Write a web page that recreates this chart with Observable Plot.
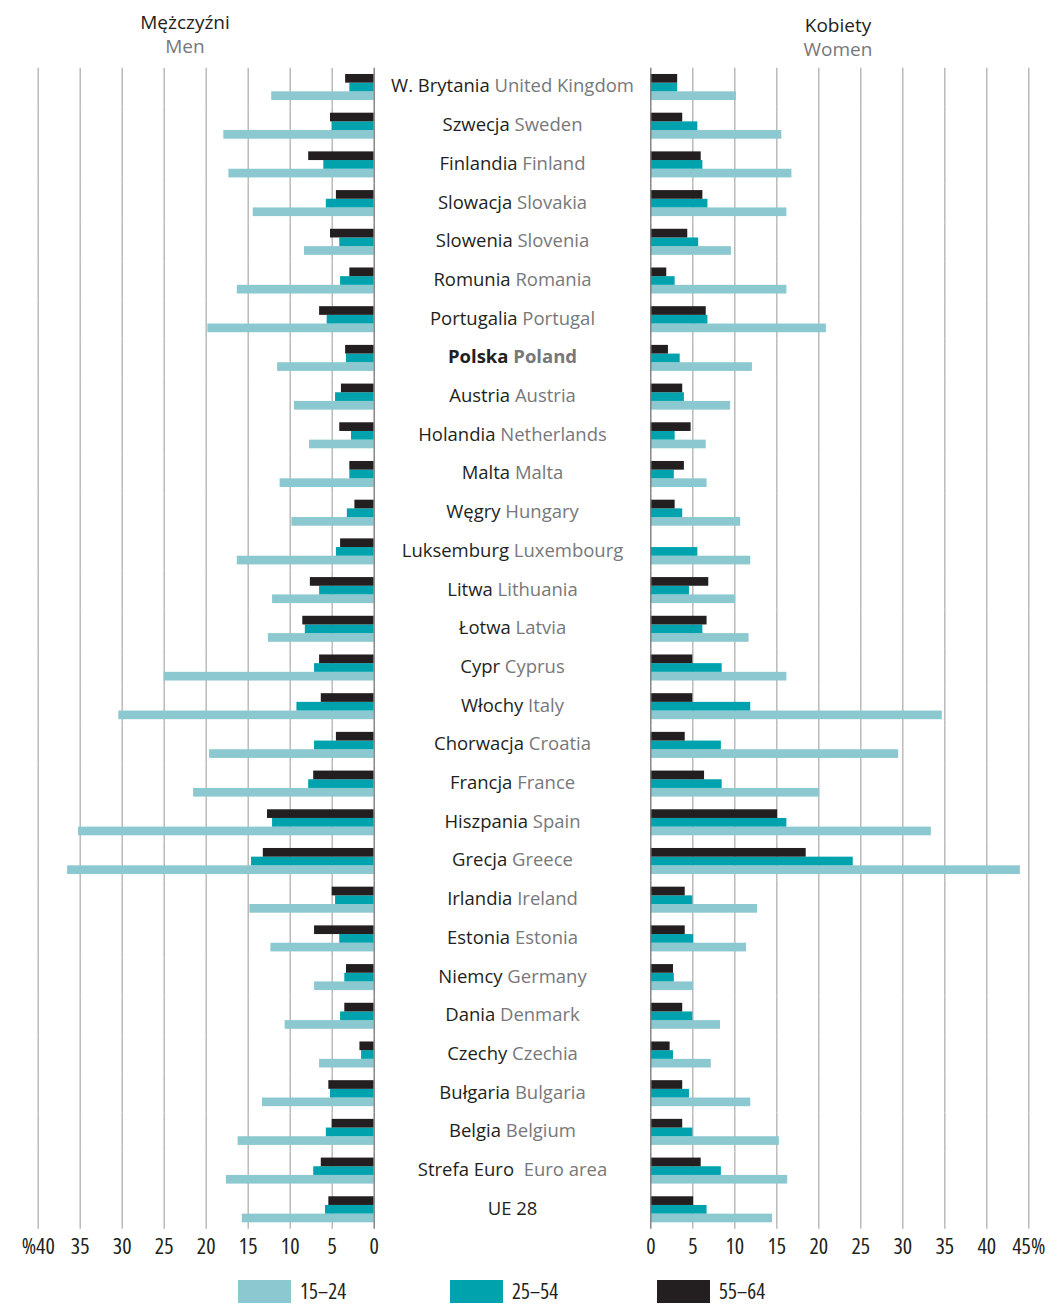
<!DOCTYPE html>
<html><head><meta charset="utf-8">
<script src="https://cdn.jsdelivr.net/npm/d3@7"></script>
<script src="https://cdn.jsdelivr.net/npm/@observablehq/plot@0.6"></script>
<style>
body{margin:0;background:#fff;font-family:"Open Sans",sans-serif;}
#wrap{position:relative;width:1057px;height:1307px;overflow:hidden;}
.hdr{position:absolute;font-size:19px;line-height:normal;text-align:center;width:200px;white-space:nowrap;}
.pl{color:#231f20;} .en{color:#77787b;}
.leg{position:absolute;top:1280px;height:23px;display:flex;align-items:center;font-family:"Open Sans",sans-serif;font-stretch:condensed;font-size:21px;line-height:23px;color:#231f20;}
.sw{width:53px;height:23px;margin-right:9px;}
</style></head><body><div id="wrap"></div>
<script>
// ---- data ----
const countriesPl = ["W. Brytania","Szwecja","Finlandia","Slowacja","Slowenia","Romunia","Portugalia","Polska","Austria","Holandia","Malta","Węgry","Luksemburg","Litwa","Łotwa","Cypr","Włochy","Chorwacja","Francja","Hiszpania","Grecja","Irlandia","Estonia","Niemcy","Dania","Czechy","Bułgaria","Belgia","Strefa Euro","UE 28"];
const countriesEn = ["United Kingdom","Sweden","Finland","Slovakia","Slovenia","Romania","Portugal","Poland","Austria","Netherlands","Malta","Hungary","Luxembourg","Lithuania","Latvia","Cyprus","Italy","Croatia","France","Spain","Greece","Ireland","Estonia","Germany","Denmark","Czechia","Bulgaria","Belgium","\u00a0Euro area",""];
const ages = ["15–24","25–54","55–64"];
const men1524 = [12.2,17.9,17.3,14.4,8.3,16.3,19.8,11.5,9.5,7.7,11.2,9.8,16.3,12.1,12.6,25.0,30.4,19.6,21.5,35.2,36.5,14.8,12.3,7.1,10.6,6.5,13.3,16.2,17.6,15.7];
const men2554 = [2.9,5.0,6.0,5.7,4.1,4.0,5.6,3.3,4.6,2.7,2.9,3.2,4.5,6.5,8.2,7.1,9.2,7.1,7.8,12.1,14.6,4.6,4.1,3.5,4.0,1.5,5.2,5.7,7.2,5.8];
const men5564 = [3.4,5.2,7.8,4.5,5.2,2.9,6.5,3.4,3.9,4.1,2.9,2.3,4.0,7.6,8.5,6.5,6.3,4.5,7.2,12.7,13.2,5.0,7.1,3.3,3.5,1.7,5.4,5.0,6.3,5.4];
const women1524 = [10.2,15.6,16.8,16.2,9.6,16.2,20.9,12.1,9.5,6.6,6.7,10.7,11.9,10.1,11.7,16.2,34.7,29.5,20.1,33.4,44.0,12.7,11.4,5.1,8.3,7.2,11.9,15.3,16.3,14.5];
const women2554 = [3.2,5.6,6.2,6.8,5.7,2.9,6.8,3.5,4.0,2.9,2.8,3.8,5.6,4.6,6.2,8.5,11.9,8.4,8.5,16.2,24.1,5.0,5.1,2.8,5.0,2.7,4.6,5.0,8.4,6.7];
const women5564 = [3.2,3.8,6.0,6.2,4.4,1.9,6.6,2.1,3.8,4.8,4.0,2.9,null,6.9,6.7,5.0,5.0,4.1,6.4,15.1,18.5,4.1,4.1,2.7,3.8,2.3,3.8,3.8,6.0,5.1];
const menTicks = [0,5,10,15,20,25,30,35,40];
const womenTicks = [0,5,10,15,20,25,30,35,40,45];
const colors = ["#8cc8cf","#00a3ad","#231f20"];
const boldCountry = "Polska";

// ---- build tables ----
function rowsOf(a,b,c){
  return countriesPl.flatMap((ct,i)=>[
    {country:ct, age:ages[0], v:a[i]},
    {country:ct, age:ages[1], v:b[i]},
    {country:ct, age:ages[2], v:c[i]}
  ]).filter(d=>d.v!=null);
}
const menRows = rowsOf(men1524,men2554,men5564);
const womenRows = rowsOf(women1524,women2554,women5564);
const labelRows = countriesPl.map((c,i)=>({country:c, pl:c, en:countriesEn[i]}));

const TOP = 67.65, STEP = 38.7, N = countriesPl.length;
const H = TOP + N*STEP + 40;
const tickFont = {fontFamily:'"Open Sans",sans-serif', fontStretch:"condensed", fontSize:"22px", color:"#231f20", background:"transparent", overflow:"visible"};

function common(){
  return {
    y:{domain:[ages[2],ages[1],ages[0]], paddingInner:0, paddingOuter:0.73, round:false, axis:null},
    fy:{domain:countriesPl, padding:0, round:false, axis:null},
    color:{domain:ages, range:colors}
  };
}

const left = Plot.plot({
  ...common(),
  width:380, height:H, marginLeft:37.7, marginRight:6.3, marginTop:TOP, marginBottom:40,
  style:tickFont,
  x:{domain:[0,40], reverse:true, ticks:menTicks, tickFormat:d=>d===40?"%40":String(d), tickSize:0, tickPadding:9, label:null},
  marks:[
    Plot.ruleX(menTicks.filter(t=>t>0), {stroke:"#b5b5b5", strokeWidth:1.4}),
    Plot.barX(menRows, {fy:"country", y:"age", x:"v", fill:"age"}),
    Plot.ruleX([0], {stroke:"#7d7d7d", strokeWidth:1.4})
  ]
});

const right = Plot.plot({
  ...common(),
  width:677, height:H, marginLeft:270.3, marginRight:28.7, marginTop:TOP, marginBottom:40,
  style:tickFont,
  x:{domain:[0,45], ticks:womenTicks, tickFormat:d=>d===45?"45%":String(d), tickSize:0, tickPadding:9, label:null},
  marks:[
    Plot.ruleX(womenTicks.filter(t=>t>0), {stroke:"#b5b5b5", strokeWidth:1.4}),
    Plot.barX(womenRows, {fy:"country", y:"age", x:"v", fill:"age"}),
    Plot.ruleX([0], {stroke:"#7d7d7d", strokeWidth:1.4}),
    Plot.text(labelRows, {fy:"country", x:()=>0, dx:-138.3, dy:-1, text:d=>d.pl+"|"+d.en, textAnchor:"middle", fontSize:18.5, fontFamily:"Open Sans"})
  ]
});

// split labels into Polish (dark) + English (grey)
const ns = "http://www.w3.org/2000/svg";
Array.from(right.querySelectorAll("text")).filter(t=>t.textContent.includes("|")).forEach(t=>{
  const [pl,en] = t.textContent.split("|");
  while (t.firstChild) t.removeChild(t.firstChild);
  t.style.fontStretch = "normal";
  const a = document.createElementNS(ns,"tspan");
  a.textContent = pl; a.setAttribute("fill","#231f20");
  t.appendChild(a);
  if (en) {
    const b = document.createElementNS(ns,"tspan");
    b.textContent = " " + en; b.setAttribute("fill","#77787b");
    t.appendChild(b);
  }
  if (pl === boldCountry) t.setAttribute("font-weight","bold");
});

const wrap = document.getElementById("wrap");
left.style.position="absolute"; left.style.left="0px"; left.style.top="0px";
right.style.position="absolute"; right.style.left="380px"; right.style.top="0px";
wrap.appendChild(left); wrap.appendChild(right);

// headers
function hdr(cx, top, txt, cls){
  const d=document.createElement("div"); d.className="hdr "+cls; d.textContent=txt;
  d.style.left=(cx-100)+"px"; d.style.top=top+"px"; wrap.appendChild(d);
}
hdr(185, 8.5, "Mężczyźni", "pl");
hdr(185, 32.5, "Men", "en");
hdr(838, 11.5, "Kobiety", "pl");
hdr(838, 35.5, "Women", "en");

// legend
const legX = [238, 450, 657];
ages.forEach((a,i)=>{
  const d=document.createElement("div"); d.className="leg"; d.style.left=legX[i]+"px";
  const s=document.createElement("div"); s.className="sw"; s.style.background=colors[i];
  const t=document.createElement("span"); t.textContent=a;
  d.appendChild(s); d.appendChild(t); wrap.appendChild(d);
});
</script></body></html>
